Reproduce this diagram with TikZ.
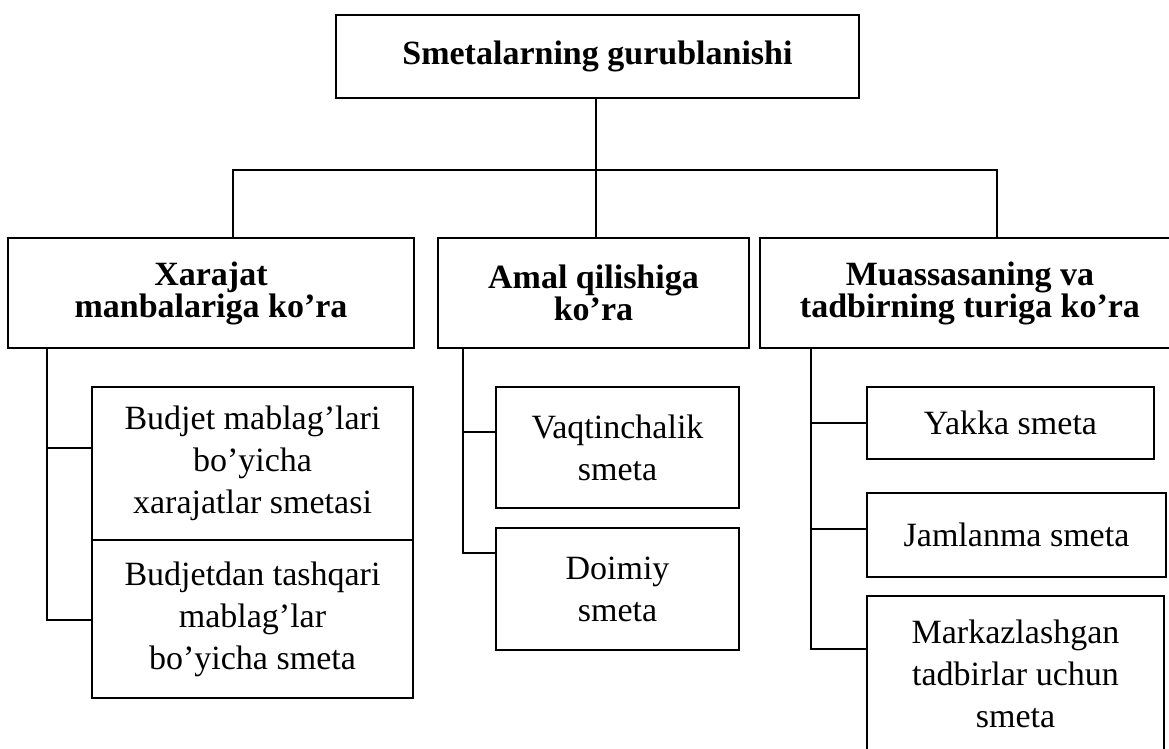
\documentclass[tikz,border=0pt]{standalone}
\usepackage{fontspec}
\setmainfont{Liberation Serif}
\begin{document}
\begin{tikzpicture}[x=0.5pt,y=-0.5pt,
  box/.style={draw, line width=1.1pt, inner sep=0pt, outer sep=0pt, align=center},
  hd/.style={box, font=\bfseries\fontsize{17}{16}\selectfont},
  lf/.style={box, font=\fontsize{17}{21}\selectfont},
  wh/.style 2 args={minimum width=#1*0.5pt, minimum height=#2*0.5pt},
  conn/.style={line width=1.1pt}]
\useasboundingbox (0,0) rectangle (1169,749);
\clip (0,0) rectangle (1169,749);
\fill[white] (0,0) rectangle (1169,749);

% top
\node[hd, wh={523}{83}] (T) at (597.5,56.5) {Smetalarning gurublanishi};

% level 2
\node[hd, wh={406}{110}] (A) at (211,293) {Xarajat\\manbalariga ko’ra};
\node[hd, wh={311}{110}] (B) at (593.5,293) {Amal qilishiga\\ko’ra};
\node[hd, wh={420}{110}] (C) at (970,293) {Muassasaning va\\tadbirning turiga ko’ra};

% level 3
\node[lf, wh={321}{153}] (A1) at (252.5,463.5) {Budjet mablag’lari\\bo’yicha\\xarajatlar smetasi};
\node[lf, wh={321}{158}] (A2) at (252.5,619) {Budjetdan tashqari\\mablag’lar\\bo’yicha smeta};
\node[lf, wh={243}{121}] (B1) at (617.5,447.5) {Vaqtinchalik\\smeta};
\node[lf, wh={243}{122}] (B2) at (617.5,589) {Doimiy\\smeta};
\node[lf, wh={287}{72}] (C1) at (1010.5,423) {Yakka smeta};
\node[lf, wh={299}{84}] (C2) at (1016.5,535) {Jamlanma smeta};
\node[lf, wh={297}{156}] (C3) at (1015.5,674) {Markazlashgan\\tadbirlar uchun\\smeta};

% connectors top
\coordinate (j) at (596,170);
\coordinate (busL) at (233,170);
\coordinate (busR) at (997,170);
\draw[conn] (T.south -| j) -- (B.north -| j);
\draw[conn] (A.north -| busL) -- (busL) -- (busR) -- (C.north -| busR);

% left branches
\coordinate (aL) at (47,348);
\draw[conn] (A.south -| aL) -- (aL |- 0,620) -- (A2.west |- 0,620);
\draw[conn] (aL |- 0,448) -- (A1.west |- 0,448);

% middle branches
\coordinate (bL) at (463,348);
\draw[conn] (B.south -| bL) -- (bL |- 0,553) -- (B2.west |- 0,553);
\draw[conn] (bL |- 0,432) -- (B1.west |- 0,432);

% right branches
\coordinate (cL) at (811,348);
\draw[conn] (C.south -| cL) -- (cL |- 0,649) -- (C3.west |- 0,649);
\draw[conn] (cL |- 0,423) -- (C1.west |- 0,423);
\draw[conn] (cL |- 0,529) -- (C2.west |- 0,529);
\end{tikzpicture}
\end{document}
